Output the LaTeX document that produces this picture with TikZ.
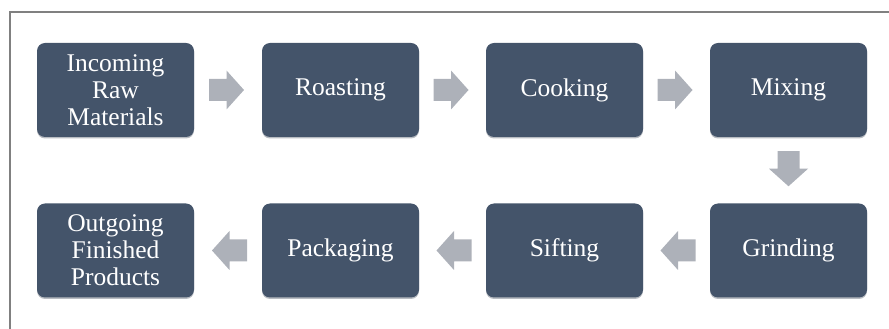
\documentclass[tikz,border=0pt]{standalone}
\usepackage{fontspec}
\setmainfont{Liberation Serif}
\usetikzlibrary{calc}
\definecolor{boxfill}{HTML}{44546A}
\definecolor{arrowgray}{HTML}{ADB1B9}
\definecolor{framegray}{HTML}{808080}
\definecolor{shadowgray}{HTML}{B8BCC2}
\tikzset{
  stepbox/.style={rectangle, rounded corners=8pt, fill=boxfill, text=white,
    minimum width=157pt, minimum height=94pt, inner sep=0pt, align=center,
    font=\fontsize{25.5}{27}\selectfont},
}
\newcommand\blockarrow[2]{%
  \fill[arrowgray, shift={(#1)}, rotate=#2]
    (-17.5,-11) -- (0,-11) -- (0,-19.5) -- (17.5,0) -- (0,19.5) -- (0,11) -- (-17.5,11) -- cycle;}
\begin{document}
\begin{tikzpicture}[x=1pt,y=1pt]
\useasboundingbox (0,0) rectangle (889,329);
\draw[framegray, line width=1.5pt] (10,0) -- (10,317) -- (889,317);
% shadows
\foreach \cx/\cy in {115.5/239,340.5/239,564.5/239,788.5/239,115.5/78.5,340.5/78.5,564.5/78.5,788.5/78.5}
  \fill[shadowgray, rounded corners=8pt] (\cx-78.5,\cy-48.5) rectangle (\cx+78.5,\cy+45.5);
\node[stepbox] (b1) at (115.5,239) {Incoming\\Raw\\Materials};
\node[stepbox] (b2) at (340.5,239) {Roasting};
\node[stepbox] (b3) at (564.5,239) {Cooking};
\node[stepbox] (b4) at (788.5,239) {Mixing};
\node[stepbox] (b5) at (788.5,78.5) {Grinding};
\node[stepbox] (b6) at (564.5,78.5) {Sifting};
\node[stepbox] (b7) at (340.5,78.5) {Packaging};
\node[stepbox] (b8) at (115.5,78.5) {Outgoing\\Finished\\Products};
\blockarrow{$(b1.east)!0.5!(b2.west)+(-1.5,0)$}{0}
\blockarrow{$(b2.east)!0.5!(b3.west)+(-1.5,0)$}{0}
\blockarrow{$(b3.east)!0.5!(b4.west)+(-1.5,0)$}{0}
\blockarrow{$(b4.south)!0.5!(b5.north)+(0,1.5)$}{-90}
\blockarrow{$(b5.west)!0.5!(b6.east)+(1.5,0)$}{180}
\blockarrow{$(b6.west)!0.5!(b7.east)+(1.5,0)$}{180}
\blockarrow{$(b7.west)!0.5!(b8.east)+(1.5,0)$}{180}
\end{tikzpicture}
\end{document}
